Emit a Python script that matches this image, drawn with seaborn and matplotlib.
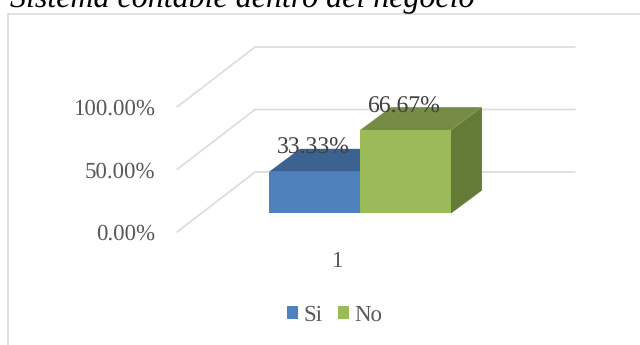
import matplotlib
matplotlib.use("Agg")
import matplotlib.pyplot as plt
from matplotlib.lines import Line2D
from matplotlib.patches import Polygon
import pandas as pd
import seaborn as sns

# Survey results
categories = ["1"]
series_names = ["Si", "No"]
series_values = [33.33, 66.67]
tick_values = [0, 50, 100]
tick_labels = ["0.00%", "50.00%", "100.00%"]
title_text = "Sistema contable dentro del negocio"

front_colors = ["#4f81bd", "#9bbb59"]
top_colors = ["#3c6291", "#768c45"]
side_colors = ["#3c6291", "#647a37"]
grid_color = "#dcdcdc"
text_color = "#595959"

sns.set_theme(style="white")
plt.rcParams["font.family"] = ["Liberation Serif", "DejaVu Serif"]
plt.rcParams["text.hinting"] = "no_hinting"

W, H = 640, 345
fig = plt.figure(figsize=(W / 100, H / 100), dpi=100)
ax = fig.add_axes([177 / W, 1 - 232 / H, (575 - 177) / W, (232 - 47) / H])

frame = pd.DataFrame({
    "categoria": categories * len(series_names),
    "serie": series_names,
    "valor": series_values,
})

# Oblique projection constants, in data units of the axes
FLOOR_LIFT = 14.8
WALL_DX, WALL_DY = 0.343, 48.0
BAR_DX, BAR_DY = 0.136, 18.4

ax.set_xlim(-0.804, 0.945)
ax.set_ylim(0, 148)

# Back wall and side wall gridlines
for v in tick_values:
    ax.plot([-0.804, -0.804 + WALL_DX, 0.945], [v, v + WALL_DY, v + WALL_DY],
            color=grid_color, lw=1.2, zorder=1, clip_on=False)

sns.barplot(data=frame, x="categoria", y="valor", hue="serie",
            hue_order=series_names, palette=front_colors, width=0.8, saturation=1,
            bottom=FLOOR_LIFT, legend=False, ax=ax, linewidth=0, edgecolor="none")
ax.set_xlim(-0.804, 0.945)
ax.set_ylim(0, 148)

# Top and side faces extruded from each front face
bars = sorted(ax.patches, key=lambda p: p.get_x())
for i, (bar, value) in enumerate(zip(bars, series_values)):
    x0, x1 = bar.get_x(), bar.get_x() + bar.get_width()
    y0, y1 = FLOOR_LIFT, FLOOR_LIFT + value
    ax.add_patch(Polygon([(x0, y1), (x1, y1), (x1 + BAR_DX, y1 + BAR_DY), (x0 + BAR_DX, y1 + BAR_DY)],
                         closed=True, facecolor=top_colors[i], edgecolor="none", zorder=2 + i))
    ax.add_patch(Polygon([(x1, y0), (x1 + BAR_DX, y0 + BAR_DY), (x1 + BAR_DX, y1 + BAR_DY), (x1, y1)],
                         closed=True, facecolor=side_colors[i], edgecolor="none", zorder=2 + i))
    bar.set_zorder(2.5 + i)
    ax.annotate(f"{value:.2f}%", xy=((x0 + x1) / 2, y1), xytext=(-1, 17),
                textcoords="offset points", ha="center", va="center",
                fontsize=17, color="#404040", zorder=6)

ax.set_yticks(tick_values, labels=tick_labels)
ax.set_xticks([-0.098], labels=categories)
ax.tick_params(axis="y", length=0, pad=15.5, labelsize=16.5, labelcolor=text_color)
ax.tick_params(axis="x", length=0, pad=13.5, labelsize=16.5, labelcolor=text_color)
ax.set_xlabel("")
ax.set_ylabel("")
for spine in ax.spines.values():
    spine.set_visible(False)
ax.patch.set_alpha(0)

# Chart frame: only its top and left edges fall inside the canvas
fig.add_artist(Line2D([7.5 / W, 7.5 / W], [0, 1 - 14 / H], color=grid_color, lw=1.2))
fig.add_artist(Line2D([7.5 / W, 1], [1 - 14 / H, 1 - 14 / H], color=grid_color, lw=1.2))

fig.text(10 / W, 1 - 7 / H, title_text, style="italic", fontsize=23, color="black",
         ha="left", va="baseline")

handles = [plt.Rectangle((0, 0), 1, 1, facecolor=c, edgecolor="none") for c in front_colors]
fig.legend(handles, series_names, loc="center", bbox_to_anchor=(334.5 / W, 1 - 315 / H), ncol=2,
           frameon=False, fontsize=16.5, labelcolor=text_color, handlelength=0.52, handleheight=0.52,
           handletextpad=0.22, columnspacing=0.65, borderpad=0)

fig.savefig("out.png", dpi=100)
